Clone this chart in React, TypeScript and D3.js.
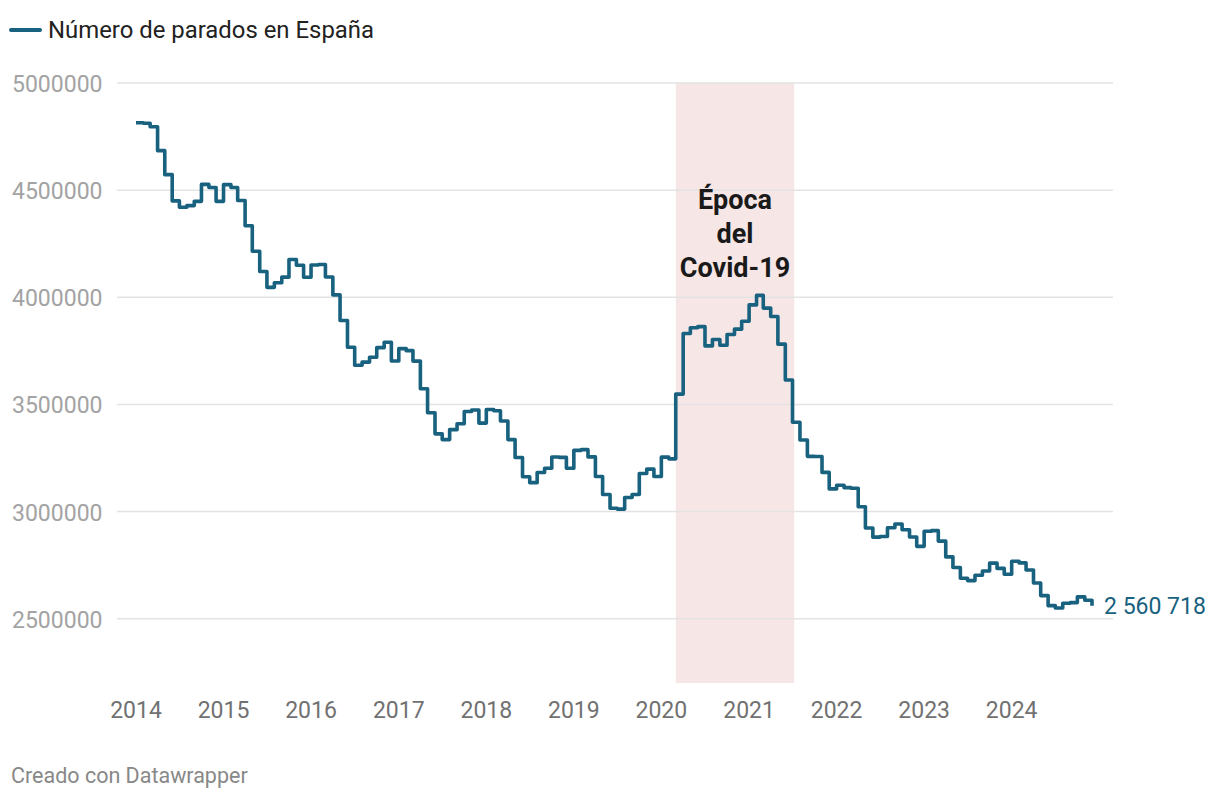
import React from "react";
import * as d3 from "d3";

const years = [2014, 2015, 2016, 2017, 2018, 2019, 2020, 2021, 2022, 2023, 2024];
const yTicks = [2500000, 3000000, 3500000, 4000000, 4500000, 5000000];

const v2014 = [4814435, 4812486, 4795866, 4684301, 4572385, 4449701, 4419860, 4427930, 4447650, 4526804, 4512153, 4447711];
const v2015 = [4525691, 4512116, 4451939, 4333669, 4215031, 4120304, 4046276, 4067955, 4094042, 4176369, 4149298, 4093508];
const v2016 = [4150710, 4152986, 4094770, 4011171, 3891403, 3767054, 3683061, 3697496, 3720297, 3764982, 3789823, 3702974];
const v2017 = [3760231, 3750876, 3702317, 3573036, 3461128, 3362811, 3335924, 3382324, 3410182, 3467026, 3474281, 3412781];
const v2018 = [3476528, 3470248, 3422551, 3335868, 3252130, 3162162, 3135021, 3182068, 3202509, 3254703, 3252867, 3202297];
const v2019 = [3285761, 3289040, 3255084, 3163566, 3079491, 3015686, 3011433, 3065804, 3079711, 3177659, 3198184, 3163605];
const v2020 = [3253853, 3246047, 3548312, 3831203, 3857776, 3862883, 3773034, 3802814, 3776485, 3826043, 3851312, 3888137];
const v2021 = [3964353, 4008789, 3949640, 3910628, 3781250, 3614339, 3416498, 3333915, 3257802, 3257068, 3182687, 3105905];
const v2022 = [3123078, 3111684, 3108763, 3022503, 2922991, 2880582, 2883812, 2924240, 2941919, 2914892, 2881380, 2837653];
const v2023 = [2908397, 2911015, 2862260, 2788370, 2739110, 2688842, 2677874, 2702700, 2722468, 2759404, 2734831, 2707456];
const v2024 = [2767860, 2760408, 2727003, 2666500, 2607850, 2561067, 2550237, 2572121, 2575285, 2602054, 2586018, 2560718];

const yearly = [v2014, v2015, v2016, v2017, v2018, v2019, v2020, v2021, v2022, v2023, v2024];

const covidStart = new Date(2020, 2, 1);
const covidEnd = new Date(2021, 6, 8);
const covidLabel = ["Época", "del", "Covid-19"];
const seriesName = "Número de parados en España";
const footer = "Creado con Datawrapper";

type Pt = { date: Date; value: number };
const data: Pt[] = [];
yearly.forEach((arr, i) =>
  arr.forEach((v, m) => data.push({ date: new Date(years[i], m, 1), value: v }))
);

const LINE = "#18617f";
const FONT = "Roboto, 'Noto Sans', sans-serif";

export default function App() {
  const x = d3
    .scaleTime()
    .domain([new Date(2014, 0, 1), new Date(2024, 11, 1)])
    .range([136, 1092]);
  const y = d3.scaleLinear().domain([2200000, 5000000]).range([683, 83]);

  const line = d3
    .line<Pt>()
    .x((d) => x(d.date))
    .y((d) => y(d.value))
    .curve(d3.curveStepAfter);

  const last = data[data.length - 1];
  const fmt = (v: number) => d3.format(",")(v).replace(/,/g, " ");
  const cx = (x(covidStart) + x(covidEnd)) / 2;

  return (
    <svg
      width={1220}
      height={800}
      style={{ position: "absolute", left: 0, top: 0, background: "#fff" }}
      fontFamily={FONT}
    >
      {/* legend */}
      <line x1={11} x2={40} y1={30} y2={30} stroke={LINE} strokeWidth={4} strokeLinecap="round" />
      <text x={48} y={38} fontSize={24} fill="#222" textLength={326} lengthAdjust="spacingAndGlyphs">
        {seriesName}
      </text>

      {/* covid band */}
      <rect
        x={x(covidStart)}
        y={y(5000000)}
        width={x(covidEnd) - x(covidStart)}
        height={y(2200000) - y(5000000)}
        fill="#f6e6e6"
      />

      {/* grid + y labels */}
      {yTicks.map((t) => (
        <g key={t}>
          <line x1={117} x2={1113} y1={y(t)} y2={y(t)} stroke="#e3e3e3" strokeWidth={1.5} />
          <text x={12} y={y(t) + 9} fontSize={23} fill="#a3a3a3">
            {t}
          </text>
        </g>
      ))}

      {/* x labels */}
      {years.map((yr) => (
        <text
          key={yr}
          x={x(new Date(yr, 0, 1))}
          y={718}
          fontSize={23}
          fill="#717171"
          textAnchor="middle"
        >
          {yr}
        </text>
      ))}

      {/* annotation */}
      {covidLabel.map((s, i) => (
        <text
          key={s}
          x={cx}
          y={209 + i * 34}
          fontSize={27}
          fontWeight={700}
          fill="#1a1a1a"
          textAnchor="middle"
        >
          {s}
        </text>
      ))}

      {/* line */}
      <path
        d={line(data) || ""}
        fill="none"
        stroke={LINE}
        strokeWidth={3.6}
        strokeLinejoin="round"
        strokeLinecap="butt"
      />

      {/* end label */}
      <text x={1104} y={y(last.value) + 8.5} fontSize={23} fill={LINE}>
        {fmt(last.value)}
      </text>

      {/* footer */}
      <text x={11} y={783} fontSize={21.5} fill="#888">
        {footer}
      </text>
    </svg>
  );
}
